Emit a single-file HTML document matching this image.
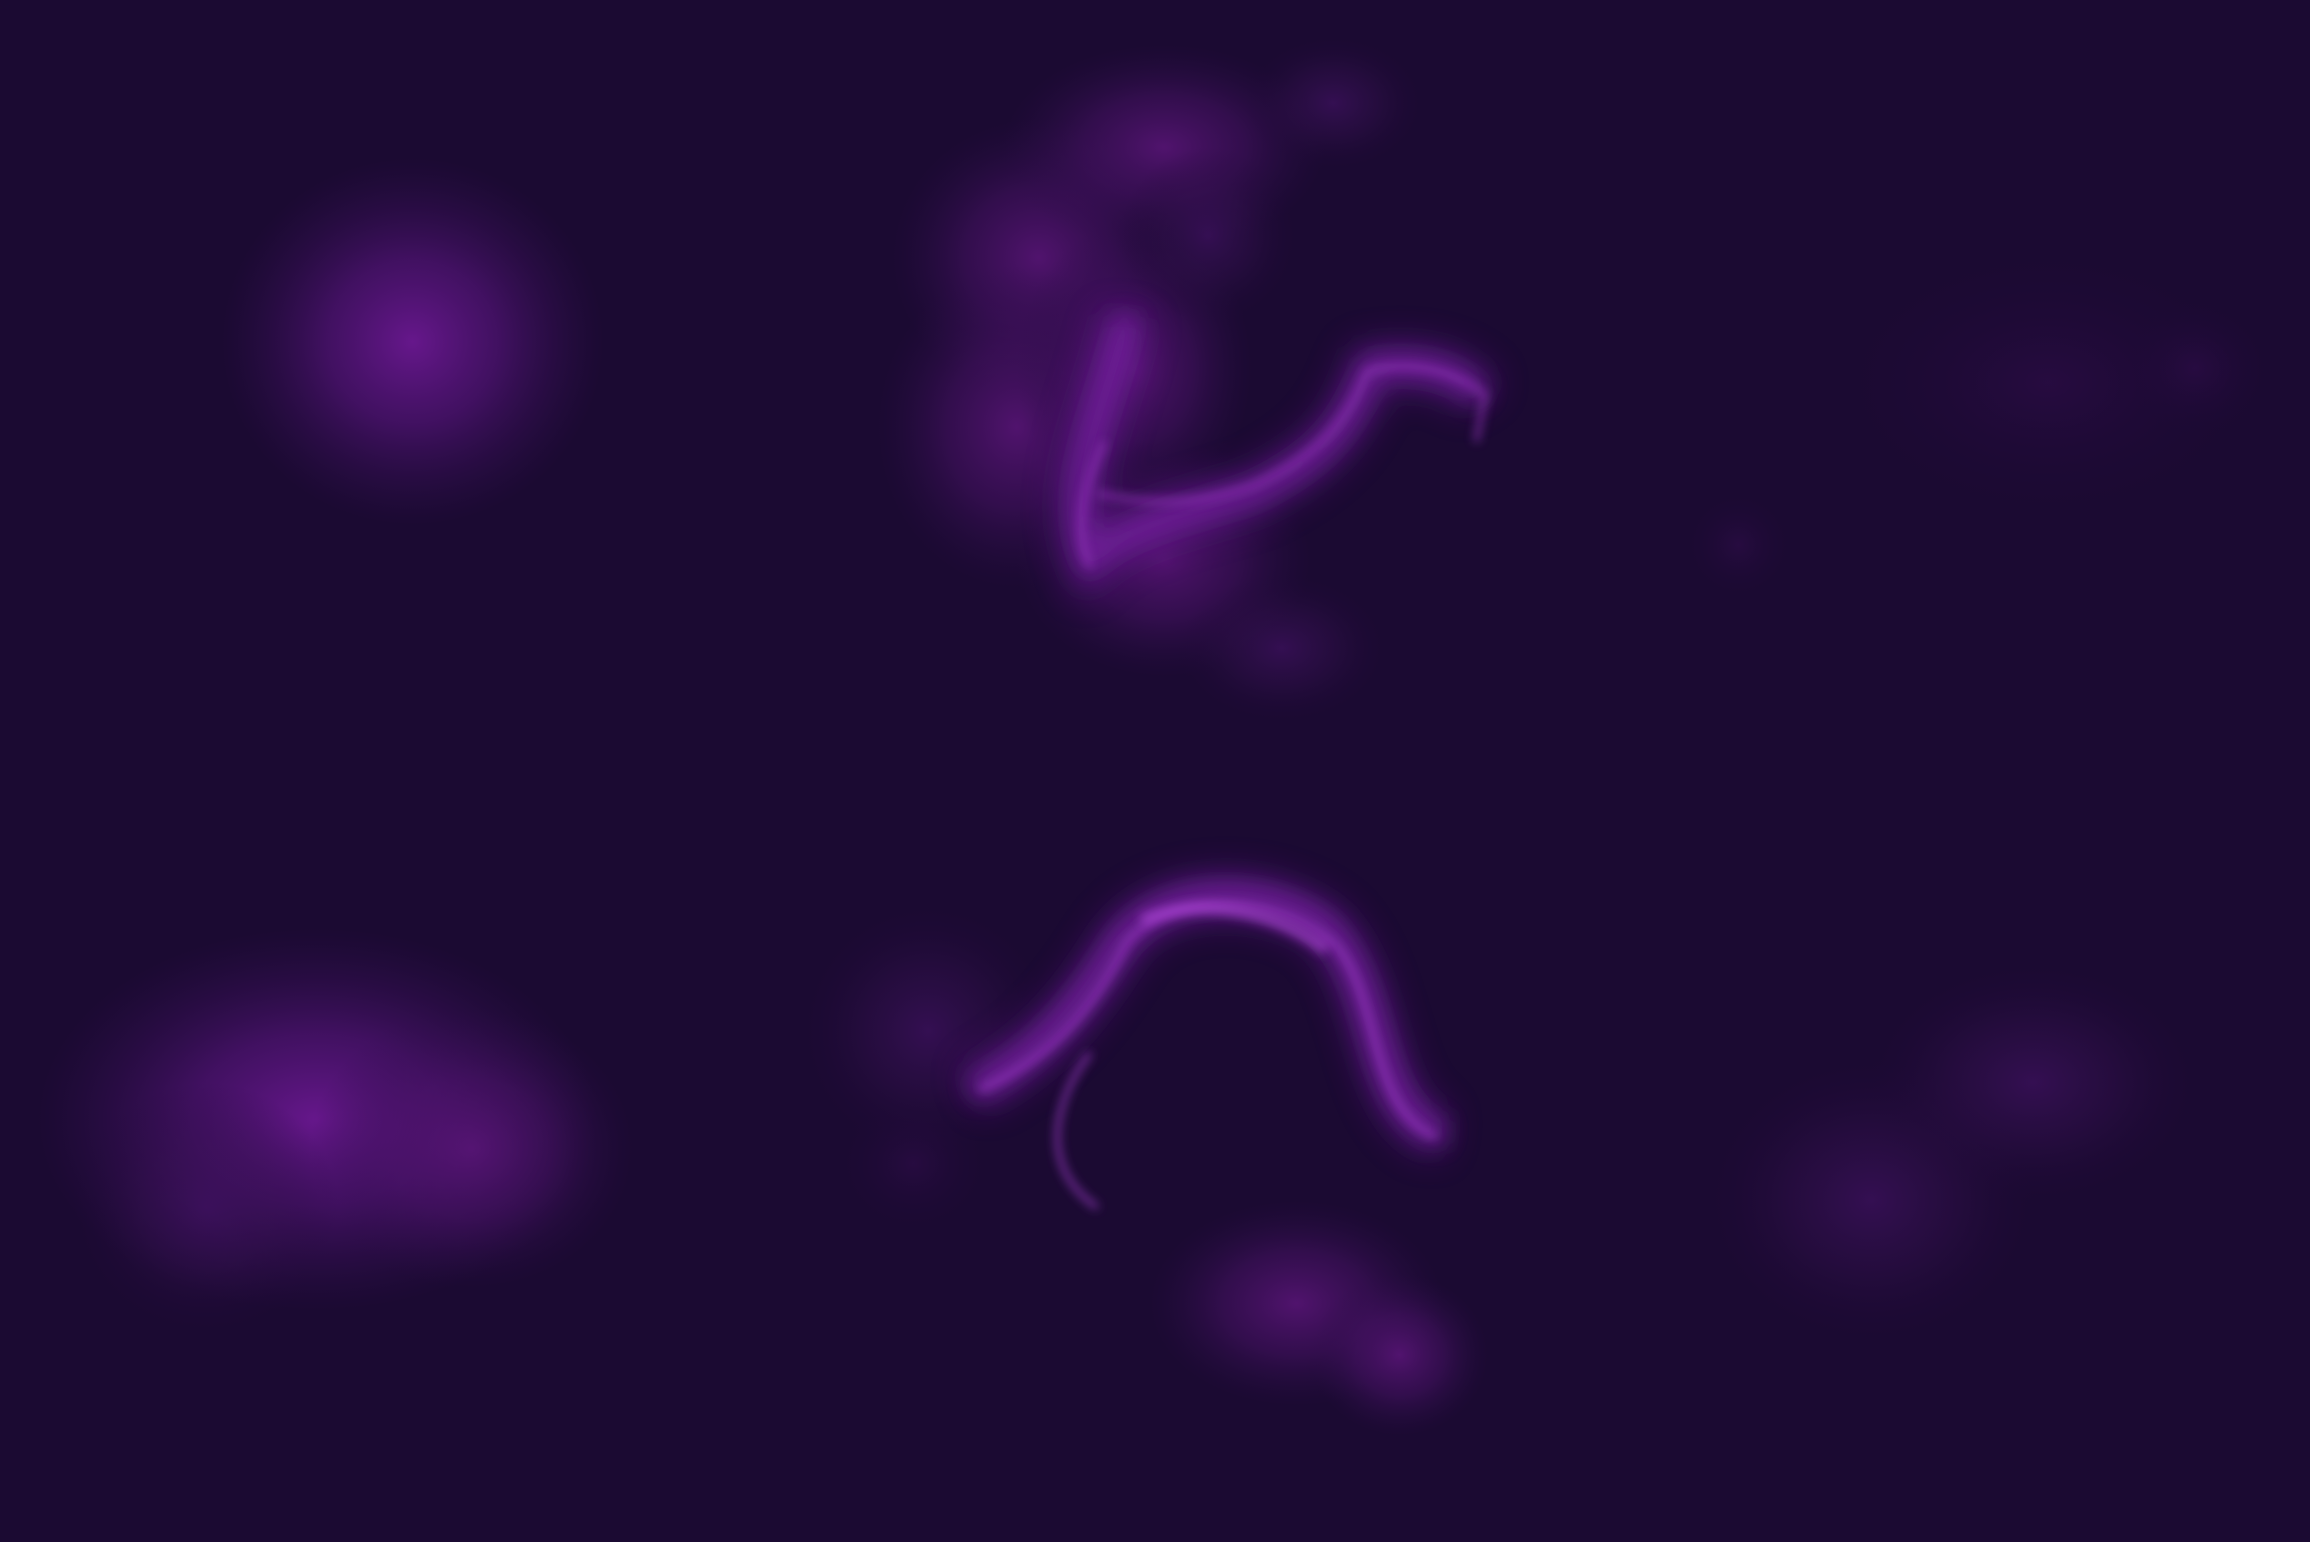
<!DOCTYPE html>
<html>
<head>
<meta charset="utf-8">
<style>
  html,body{margin:0;padding:0;width:2310px;height:1542px;overflow:hidden;background:#1b0a32;}
  svg{display:block;}
</style>
</head>
<body>
<svg width="2310" height="1542" viewBox="0 0 1568 1047" preserveAspectRatio="none" xmlns="http://www.w3.org/2000/svg">
  <defs>
    <radialGradient id="gA"><stop offset="0" stop-color="#6a1890" stop-opacity="0.95"/><stop offset="0.45" stop-color="#5a1580" stop-opacity="0.6"/><stop offset="1" stop-color="#3a0f5a" stop-opacity="0"/></radialGradient>
    <radialGradient id="gB"><stop offset="0" stop-color="#5a1578" stop-opacity="0.85"/><stop offset="0.5" stop-color="#4a1268" stop-opacity="0.5"/><stop offset="1" stop-color="#2e0d4a" stop-opacity="0"/></radialGradient>
    <radialGradient id="gC"><stop offset="0" stop-color="#3f1160" stop-opacity="0.7"/><stop offset="0.5" stop-color="#34104f" stop-opacity="0.4"/><stop offset="1" stop-color="#22093a" stop-opacity="0"/></radialGradient>
    <radialGradient id="gD"><stop offset="0" stop-color="#2c0c46" stop-opacity="0.7"/><stop offset="1" stop-color="#1e0a36" stop-opacity="0"/></radialGradient>
    <filter id="b12" x="-50%" y="-50%" width="200%" height="200%"><feGaussianBlur stdDeviation="12"/></filter>
    <filter id="b8" x="-50%" y="-50%" width="200%" height="200%"><feGaussianBlur stdDeviation="8"/></filter>
    <filter id="b3" x="-50%" y="-50%" width="200%" height="200%"><feGaussianBlur stdDeviation="3.5"/></filter>
  </defs>
  <rect width="1568" height="1047" fill="#1b0a32"/>

  <g>
    <ellipse cx="280" cy="232" rx="130" ry="125" fill="url(#gA)"/>
  </g>

  <g>
    <ellipse cx="705" cy="175" rx="100" ry="95" fill="url(#gB)"/>
    <ellipse cx="790" cy="100" rx="110" ry="70" fill="url(#gB)"/>
    <ellipse cx="905" cy="70" rx="60" ry="45" fill="url(#gC)"/>
    <ellipse cx="690" cy="290" rx="95" ry="110" fill="url(#gB)"/>
    <ellipse cx="770" cy="250" rx="80" ry="100" fill="url(#gB)"/>
    <ellipse cx="790" cy="380" rx="100" ry="80" fill="url(#gB)"/>
    <ellipse cx="870" cy="440" rx="70" ry="50" fill="url(#gC)"/>
    <ellipse cx="820" cy="160" rx="60" ry="60" fill="url(#gC)"/>
  </g>

  <g>
    <path filter="url(#b12)" d="M765 215 C750 280 720 330 740 380 C760 360 800 350 850 335 C900 310 915 290 930 250 C960 245 990 250 1005 270" stroke="#6a1e95" stroke-width="30" fill="none" opacity="0.6"/>
    <path filter="url(#b8)" d="M765 215 C750 280 720 330 740 380 C760 360 800 350 850 335 C900 310 915 290 930 250 C960 245 990 250 1005 270" stroke="#7a24a5" stroke-width="14" fill="none" opacity="0.7"/>
    <path filter="url(#b3)" d="M750 300 C735 330 728 360 740 385 M745 335 C790 345 820 340 850 330 C895 310 915 285 928 252 C955 245 985 250 1008 268 L1002 300" stroke="#a83cd2" stroke-width="4" fill="none" opacity="0.55"/>
  </g>

  <g>
    <ellipse cx="215" cy="760" rx="190" ry="130" fill="url(#gA)"/>
    <ellipse cx="320" cy="780" rx="110" ry="95" fill="url(#gB)"/>
    <ellipse cx="140" cy="820" rx="90" ry="85" fill="url(#gC)"/>
  </g>

  <g>
    <ellipse cx="880" cy="885" rx="100" ry="70" fill="url(#gB)"/>
    <ellipse cx="950" cy="920" rx="60" ry="55" fill="url(#gB)"/>
    <ellipse cx="630" cy="700" rx="85" ry="85" fill="url(#gC)"/>
    <ellipse cx="620" cy="790" rx="50" ry="45" fill="url(#gD)"/>
  </g>

  <g>
    <ellipse cx="1270" cy="815" rx="110" ry="95" fill="url(#gC)"/>
    <ellipse cx="1380" cy="735" rx="110" ry="80" fill="url(#gC)"/>
  </g>

  <g>
    <ellipse cx="1390" cy="260" rx="140" ry="90" fill="url(#gD)"/>
    <ellipse cx="1490" cy="250" rx="50" ry="45" fill="url(#gD)"/>
    <ellipse cx="1180" cy="370" rx="35" ry="35" fill="url(#gD)"/>
  </g>

  <g>
    <path filter="url(#b12)" d="M660 740 C700 720 730 690 760 640 C790 600 860 600 900 630 C940 670 930 760 980 770" stroke="#6a1e95" stroke-width="30" fill="none" opacity="0.6"/>
    <path filter="url(#b8)" d="M660 740 C700 720 730 690 760 640 C790 600 860 600 900 630 C940 670 930 760 980 770" stroke="#7a24a5" stroke-width="16" fill="none" opacity="0.75"/>
    <path filter="url(#b3)" d="M665 740 C710 720 740 690 765 640 C795 605 865 605 905 640 C938 675 928 755 975 772 M740 715 C720 740 700 790 745 820" stroke="#ad42da" stroke-width="4" fill="none" opacity="0.6"/>
    <path filter="url(#b3)" d="M775 625 C810 610 860 615 900 645" stroke="#b84ce2" stroke-width="8" fill="none" opacity="0.55"/>
  </g>
</svg>
</body>
</html>
